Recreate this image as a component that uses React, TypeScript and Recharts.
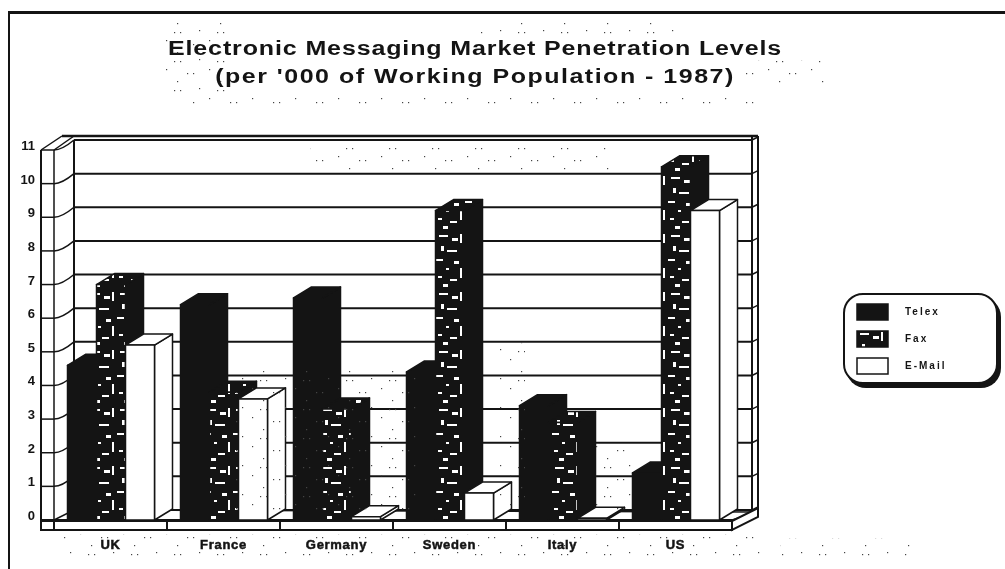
import React from 'react';
import { Bar, BarChart, CartesianGrid, Legend, XAxis, YAxis } from 'recharts';

const countries = ['UK', 'France', 'Germany', 'Sweden', 'Italy', 'US'];
const telex = [4.6, 6.4, 6.6, 4.4, 3.4, 1.4];
const fax = [7.0, 3.8, 3.3, 9.2, 2.9, 10.5];
const email = [5.2, 3.6, 0.1, 0.8, 0.05, 9.2];
const yTicks = [0, 1, 2, 3, 4, 5, 6, 7, 8, 9, 10, 11];
const seriesOrder = ['Telex', 'Fax', 'E-Mail'];

const data = countries.map((country, i) => ({
  country,
  telex: telex[i],
  fax: fax[i],
  email: email[i],
}));

const PLOT_TOP = 150;
const PLOT_BOTTOM = 520;
const INK = '#141414';
const WALL_X = 41;
const DEPTH_X = 20;
const DEPTH_Y = -10;
const FONT = '"Liberation Sans", Arial, sans-serif';

// scanner speckle left on the original page: [x, y, width, height]
const speckle = [
  [165, 22, 60, 70],
  [190, 92, 280, 16],
  [480, 22, 200, 12],
  [480, 92, 280, 16],
  [745, 60, 80, 24],
  [60, 534, 700, 24],
  [780, 538, 130, 20],
  [310, 148, 300, 22],
  [235, 370, 185, 140],
  [500, 340, 25, 170],
  [595, 440, 40, 70],
];

// 3d column: front face plus side and top
const Column = (props: any) => {
  const { x, y, width, height, front, side } = props;
  const dx = 18;
  const dy = -11;
  const h = Math.max(height, 1);
  return (
    <g stroke={INK} strokeWidth={1.5} strokeLinejoin="round">
      <polygon
        points={`${x + width},${y} ${x + width + dx},${y + dy} ${x + width + dx},${y + h + dy} ${x + width},${y + h}`}
        fill={side}
      />
      <polygon
        points={`${x},${y} ${x + dx},${y + dy} ${x + width + dx},${y + dy} ${x + width},${y}`}
        fill={front}
      />
      <rect x={x} y={y} width={width} height={h} fill={front} />
    </g>
  );
};

// one gridline: front cell on the left wall, slant, then along the back wall
const GridRow = (props: any) => {
  const { x1, x2, y1 } = props;
  const backX = x1 + DEPTH_X;
  const backY = y1 + DEPTH_Y;
  const rightX = x2 + DEPTH_X;
  const isTop = y1 <= PLOT_TOP;
  const isFloor = y1 >= PLOT_BOTTOM;
  return (
    <g stroke={INK} fill="none">
      <line x1={WALL_X} y1={y1} x2={x1} y2={y1} strokeWidth={1.5} />
      <path d={`M${x1},${y1} Q${x1 + 8},${y1} ${backX},${backY}`} strokeWidth={1.5} />
      <line x1={backX} y1={backY} x2={rightX} y2={backY} strokeWidth={2} />
      <line x1={rightX} y1={backY} x2={rightX + 6} y2={backY - 3} strokeWidth={1.5} />
      {isTop && (
        <g>
          <line x1={WALL_X} y1={y1} x2={WALL_X} y2={PLOT_BOTTOM + 9} strokeWidth={2} />
          <line x1={x1} y1={y1} x2={x1} y2={PLOT_BOTTOM} strokeWidth={1.5} />
          <line x1={backX} y1={backY} x2={backX} y2={PLOT_BOTTOM + DEPTH_Y} strokeWidth={2} />
          <line x1={rightX} y1={backY - 4} x2={rightX} y2={PLOT_BOTTOM + DEPTH_Y} strokeWidth={2} />
          <line x1={rightX + 6} y1={backY - 4} x2={rightX + 6} y2={PLOT_BOTTOM - 3} strokeWidth={2} />
          <line x1={WALL_X} y1={y1} x2={x1 + 8} y2={backY - 4} strokeWidth={1.5} />
          <line x1={x1} y1={y1} x2={backX} y2={backY - 4} strokeWidth={1.5} />
          <line x1={x1 + 8} y1={backY - 4} x2={rightX + 6} y2={backY - 4} strokeWidth={2.5} />
        </g>
      )}
      {isFloor && (
        <g>
          <polygon
            points={`${x1},${y1} ${backX},${backY} ${rightX + 6},${backY + 2} ${x2},${y1}`}
            fill="#fff"
            strokeWidth={1.5}
          />
          <polygon
            points={`${x2},${y1 + 1} ${rightX + 6},${y1 - 12} ${rightX + 6},${y1 - 3} ${x2},${y1 + 10}`}
            fill="#fff"
            strokeWidth={2}
          />
          <rect
            x={WALL_X}
            y={y1 + 1}
            width={x1 - WALL_X}
            height={9}
            fill="#fff"
            strokeWidth={2}
          />
          <line x1={WALL_X} y1={y1} x2={x2} y2={y1} strokeWidth={2} />
        </g>
      )}
    </g>
  );
};

// floor slab segment under each country plus its label
const CountryTick = (props: any) => {
  const { x, y, payload } = props;
  const half = 56.5;
  return (
    <g>
      <rect
        x={x - half}
        y={PLOT_BOTTOM + 1}
        width={half * 2}
        height={9}
        fill="#fff"
        stroke={INK}
        strokeWidth={2}
      />
      <text
        x={x}
        y={y + 21}
        textAnchor="middle"
        fontFamily={FONT}
        fontWeight="bold"
        fontSize={13}
        letterSpacing={0.7}
        stroke={INK}
        strokeWidth={0.5}
        fill={INK}
      >
        {payload.value}
      </text>
    </g>
  );
};

const ValueTick = (props: any) => (
  <text
    x={35}
    y={props.y}
    textAnchor="end"
    fontFamily={FONT}
    fontWeight="bold"
    fontSize={13}
    fill={INK}
  >
    {props.payload.value}
  </text>
);

const swatchFill: Record<string, string> = {
  Telex: INK,
  Fax: 'url(#faxPattern)',
  'E-Mail': '#fff',
};

const LegendBox = (props: any) => {
  const items = [...props.payload].sort(
    (a: any, b: any) => seriesOrder.indexOf(a.value) - seriesOrder.indexOf(b.value),
  );
  return (
    <div
      style={{
        width: 155,
        height: 91,
        boxSizing: 'border-box',
        border: `2px solid ${INK}`,
        borderRadius: 20,
        background: '#fff',
        boxShadow: `3px 4px 0 ${INK}`,
        padding: '3px 0 0 11px',
        fontFamily: FONT,
        fontWeight: 'bold',
        fontSize: 10,
        color: INK,
      }}
    >
      {items.map((item: any) => (
        <div key={item.value} style={{ display: 'flex', alignItems: 'center', height: 27 }}>
          <svg width={33} height={18}>
            <rect
              x={1}
              y={1}
              width={31}
              height={16}
              fill={swatchFill[item.value]}
              stroke={INK}
              strokeWidth={1.5}
            />
          </svg>
          <span style={{ marginLeft: 16, letterSpacing: 2 }}>{item.value}</span>
        </div>
      ))}
    </div>
  );
};

const App = () => (
  <div
    style={{
      position: 'absolute',
      left: 0,
      top: 0,
      width: 1005,
      height: 569,
      background: '#fff',
      overflow: 'hidden',
      filter: 'blur(0.6px)',
    }}
  >
    <div
      style={{
        position: 'absolute',
        left: 8,
        top: 11,
        width: 997,
        height: 558,
        borderTop: `3px solid ${INK}`,
        borderLeft: `2px solid ${INK}`,
      }}
    />
    <div
      style={{
        position: 'absolute',
        left: 0,
        width: 950,
        top: 34,
        textAlign: 'center',
        fontFamily: FONT,
        color: INK,
        fontWeight: 'bold',
        fontSize: 20,
        lineHeight: '28px',
        whiteSpace: 'nowrap',
      }}
    >
      <div style={{ letterSpacing: 0.7, transform: 'scaleX(1.25)' }}>
        Electronic Messaging Market Penetration Levels
      </div>
      <div style={{ letterSpacing: 1.2, transform: 'scaleX(1.25)' }}>
        (per '000 of Working Population - 1987)
      </div>
    </div>
    <BarChart
      width={1005}
      height={569}
      data={data}
      barGap={0}
      barCategoryGap={13.5}
      margin={{ top: PLOT_TOP, right: 113, bottom: 0, left: 0 }}
      style={{ position: 'absolute', left: 0, top: 0 }}
    >
      <defs>
        <pattern id="faxPattern" width={29} height={58} patternUnits="userSpaceOnUse">
          <rect width={29} height={58} fill={INK} />
          <rect x={4} y={3} width={9} height={2} fill="#fff" />
          <rect x={17} y={6} width={6} height={3} fill="#fff" />
          <rect x={25} y={2} width={2} height={9} fill="#fff" />
          <rect x={6} y={14} width={3} height={5} fill="#fff" />
          <rect x={12} y={18} width={10} height={2} fill="#fff" />
          <rect x={1} y={27} width={7} height={2} fill="#fff" />
          <rect x={19} y={29} width={5} height={3} fill="#fff" />
          <rect x={11} y={36} width={3} height={2} fill="#fff" />
          <rect x={25} y={36} width={2} height={10} fill="#fff" />
          <rect x={3} y={44} width={4} height={2} fill="#fff" />
          <rect x={15} y={47} width={7} height={2} fill="#fff" />
          <rect x={8} y={52} width={5} height={3} fill="#fff" />
        </pattern>
        <pattern id="speckle" width={43} height={29} patternUnits="userSpaceOnUse">
          <rect x={2} y={3} width={1.2} height={1.2} fill="#444" />
          <rect x={8} y={3} width={1.2} height={1.2} fill="#444" />
          <rect x={27} y={1} width={1.2} height={1.2} fill="#444" />
          <rect x={37} y={11} width={1.2} height={1.2} fill="#444" />
          <rect x={15} y={15} width={1.2} height={1.2} fill="#444" />
          <rect x={21} y={15} width={1.2} height={1.2} fill="#444" />
          <rect x={5} y={23} width={1.2} height={1.2} fill="#444" />
        </pattern>
      </defs>
      <CartesianGrid vertical={false} horizontal={GridRow} />
      <XAxis
        dataKey="country"
        height={49}
        axisLine={false}
        tickLine={false}
        interval={0}
        tick={CountryTick}
      />
      <YAxis
        width={54}
        domain={[0, 11]}
        ticks={yTicks}
        axisLine={false}
        tickLine={false}
        tick={ValueTick}
      />
      <Legend
        layout="vertical"
        align="right"
        verticalAlign="middle"
        content={LegendBox}
        wrapperStyle={{ position: 'absolute', left: 843, top: 293, width: 160, right: 'auto' }}
      />
      <Bar
        dataKey="telex"
        name="Telex"
        fill={INK}
        isAnimationActive={false}
        shape={(p: any) => <Column {...p} front={INK} side={INK} />}
      />
      <Bar
        dataKey="fax"
        name="Fax"
        fill={INK}
        isAnimationActive={false}
        shape={(p: any) => <Column {...p} front="url(#faxPattern)" side={INK} />}
      />
      <Bar
        dataKey="email"
        name="E-Mail"
        fill="#fff"
        isAnimationActive={false}
        shape={(p: any) => <Column {...p} front="#fff" side="#fff" />}
      />
    </BarChart>
    <svg width={1005} height={569} style={{ position: 'absolute', left: 0, top: 0, pointerEvents: 'none' }}>
      {speckle.map(([x, y, w, h]) => (
        <rect key={`${x}-${y}`} x={x} y={y} width={w} height={h} fill="url(#speckle)" />
      ))}
    </svg>
  </div>
);

export default App;
